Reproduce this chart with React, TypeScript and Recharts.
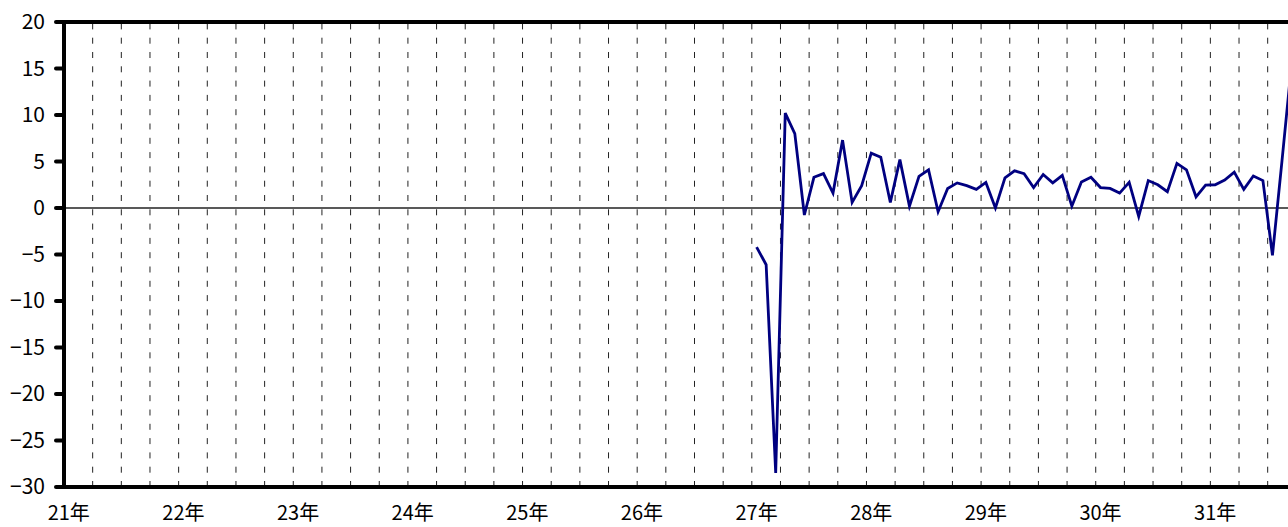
import React from 'react';
import { LineChart, Line, XAxis, YAxis, ReferenceLine } from 'recharts';

// Year labels on the category axis (monthly data, 12 slots per year)
const yearLabels = ['21年', '22年', '23年', '24年', '25年', '26年', '27年', '28年', '29年', '30年', '31年'];
const firstYearIndex = 6; // series starts in January of 27年
const yTicks = [-30, -25, -20, -15, -10, -5, 0, 5, 10, 15, 20];

// Monthly values starting at 27年 January
const values = [
  -4.2, -6.1, -28.5, 10.2, 8.0, -0.75, 3.3, 3.7, 1.6, 7.3, 0.6, 2.4,
  5.9, 5.45, 0.6, 5.2, 0.2, 3.4, 4.1, -0.4, 2.1, 2.7, 2.4, 2.0,
  2.75, 0.0, 3.25, 4.0, 3.7, 2.2, 3.6, 2.7, 3.5, 0.2, 2.8, 3.3,
  2.2, 2.1, 1.6, 2.75, -0.9, 2.95, 2.5, 1.75, 4.8, 4.1, 1.2, 2.45,
  2.5, 3.0, 3.85, 2.0, 3.45, 2.95, -5.1, 5.1, 15.5,
];

const monthsTotal = yearLabels.length * 12;
const data = values.map((v, i) => ({ x: firstYearIndex * 12 + i + 0.5, v }));
const xTicks = yearLabels.map((_, i) => i * 12 + 0.5);
const quarterLines: number[] = [];
for (let q = 3; q < monthsTotal; q += 3) quarterLines.push(q);

const font = '"Noto Sans CJK JP", "Noto Sans", sans-serif';

export default function App() {
  return (
    <div style={{ position: 'fixed', left: 0, top: 0, width: 1288, height: 527, overflow: 'hidden', background: '#fff' }}>
      <LineChart
        width={1340}
        height={527}
        data={data}
        margin={{ top: 22, right: 15, left: 0, bottom: 0 }}
      >
        <XAxis
          dataKey="x"
          type="number"
          domain={[0, monthsTotal]}
          ticks={xTicks}
          interval={0}
          tickFormatter={(v: number) => yearLabels[Math.round((v - 0.5) / 12)]}
          axisLine={{ stroke: '#000', strokeWidth: 4 }}
          tickLine={false}
          tickSize={0}
          tickMargin={19}
          height={40}
          tick={{ fill: '#000', fontSize: 20, fontFamily: font }}
          allowDataOverflow
        />
        <YAxis
          type="number"
          domain={[-30, 20]}
          ticks={yTicks}
          interval={0}
          width={64}
          axisLine={{ stroke: '#000', strokeWidth: 4 }}
          tickLine={{ stroke: '#000', strokeWidth: 4, strokeLinecap: 'round' }}
          tickSize={8}
          tickMargin={11}
          tickFormatter={(v: number) => String(v).replace('-', '−')}
          tick={{ fill: '#000', fontSize: 21, fontFamily: font }}
        />
        {quarterLines.map((q) => (
          <ReferenceLine key={q} x={q} stroke="#222" strokeWidth={1} strokeDasharray="6 8.3" />
        ))}
        <ReferenceLine y={0} stroke="#222" strokeWidth={1.3} />
        <ReferenceLine y={20} stroke="#000" strokeWidth={4} />
        <Line
          type="linear"
          dataKey="v"
          stroke="#000080"
          strokeWidth={2.8}
          dot={false}
          isAnimationActive={false}
        />
      </LineChart>
    </div>
  );
}
